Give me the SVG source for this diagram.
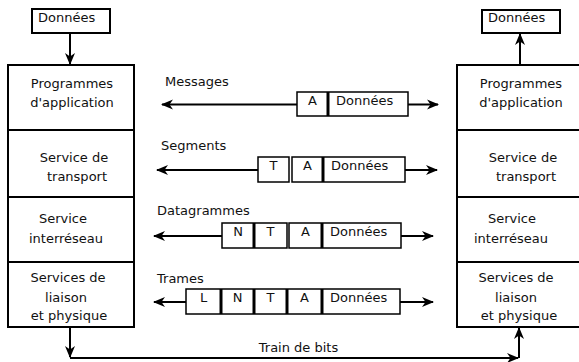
<svg xmlns="http://www.w3.org/2000/svg" width="579" height="362" viewBox="0 0 579 362">
<defs>
<marker id="ah" markerUnits="userSpaceOnUse" markerWidth="12" markerHeight="12" viewBox="0 0 12 12" refX="11" refY="6" orient="auto">
<path d="M0,1 L12,6 L0,11 L3.5,6 z" fill="#000"/>
</marker>
<style>
text{font-family:"DejaVu Sans",sans-serif;font-size:13px;fill:#111}
.box{fill:#fff;stroke:#000;stroke-width:2}
.cell{fill:#fff;stroke:#000;stroke-width:1.5}
.sep{stroke:#000;stroke-width:3}
.ln{fill:none;stroke:#000;stroke-width:2}
.m{text-anchor:middle}
</style>
</defs>
<g id="connectors">
<line class="ln" x1="70" y1="33" x2="70" y2="64" marker-end="url(#ah)"/>
<line class="ln" x1="520" y1="65" x2="520" y2="34" marker-end="url(#ah)"/>
<line class="ln" x1="70" y1="327" x2="70" y2="357" marker-end="url(#ah)"/>
<line class="ln" x1="70" y1="358" x2="518" y2="358" marker-end="url(#ah)"/>
<line class="ln" x1="519" y1="358" x2="519" y2="328" marker-end="url(#ah)"/>
<line class="ln" x1="297" y1="104.5" x2="162" y2="104.5" marker-end="url(#ah)"/>
<line class="ln" x1="408" y1="104.5" x2="438" y2="104.5" marker-end="url(#ah)"/>
<line class="ln" x1="258" y1="170" x2="157" y2="170" marker-end="url(#ah)"/>
<line class="ln" x1="405" y1="170" x2="437" y2="170" marker-end="url(#ah)"/>
<line class="ln" x1="222" y1="236" x2="154" y2="236" marker-end="url(#ah)"/>
<line class="ln" x1="401" y1="236" x2="433" y2="236" marker-end="url(#ah)"/>
<line class="ln" x1="186" y1="302" x2="154" y2="302" marker-end="url(#ah)"/>
<line class="ln" x1="400" y1="302" x2="433" y2="302" marker-end="url(#ah)"/>
</g>
<g id="data-left">
<rect class="box" x="32" y="9" width="78" height="24"/>
<text x="38" y="22">Données</text>
</g>
<g id="data-right">
<rect class="box" x="482" y="10" width="78" height="23"/>
<text x="488" y="22">Données</text>
</g>
<g id="left-app">
<rect class="box" x="8" y="65" width="126" height="65"/>
<text class="m" x="72" y="88">Programmes</text>
<text class="m" x="72" y="107">d'application</text>
</g>
<g id="left-transport">
<rect class="box" x="8" y="130" width="126" height="67"/>
<text class="m" x="74" y="162">Service de</text>
<text class="m" x="77" y="181">transport</text>
</g>
<g id="left-inter">
<rect class="box" x="8" y="197" width="126" height="65"/>
<text class="m" x="63" y="223">Service</text>
<text class="m" x="66" y="243">interréseau</text>
</g>
<g id="left-liaison">
<rect class="box" x="8" y="262" width="126" height="65"/>
<text class="m" x="68" y="282">Services de</text>
<text class="m" x="66" y="302">liaison</text>
<text class="m" x="69" y="320">et physique</text>
</g>
<g id="right-app">
<rect class="box" x="457" y="65" width="125" height="65"/>
<text class="m" x="521" y="88">Programmes</text>
<text class="m" x="521" y="107">d'application</text>
</g>
<g id="right-transport">
<rect class="box" x="457" y="130" width="125" height="67"/>
<text class="m" x="523" y="162">Service de</text>
<text class="m" x="526" y="181">transport</text>
</g>
<g id="right-inter">
<rect class="box" x="457" y="197" width="125" height="65"/>
<text class="m" x="512" y="223">Service</text>
<text class="m" x="511" y="243">interréseau</text>
</g>
<g id="right-liaison">
<rect class="box" x="457" y="262" width="125" height="65"/>
<text class="m" x="516" y="282">Services de</text>
<text class="m" x="516" y="302">liaison</text>
<text class="m" x="519" y="320">et physique</text>
</g>
<g id="messages">
<text x="165" y="86">Messages</text>
<rect class="cell" x="297" y="92" width="111" height="24"/>
<line class="sep" x1="328" y1="92" x2="328" y2="116"/>
<text class="m" x="312.5" y="105">A</text>
<text x="336" y="105">Données</text>
</g>
<g id="segments">
<text x="161" y="150">Segments</text>
<rect class="cell" x="258" y="157" width="31" height="25"/>
<rect class="cell" x="292" y="157" width="113" height="25"/>
<line class="sep" x1="323" y1="157" x2="323" y2="182"/>
<text class="m" x="273.5" y="170">T</text>
<text class="m" x="307.5" y="170">A</text>
<text x="331" y="170">Données</text>
</g>
<g id="datagrammes">
<text x="157" y="215">Datagrammes</text>
<rect class="cell" x="222" y="223" width="65" height="25"/>
<line class="sep" x1="254" y1="223" x2="254" y2="248"/>
<rect class="cell" x="289" y="223" width="112" height="25"/>
<line class="sep" x1="322" y1="223" x2="322" y2="248"/>
<text class="m" x="238" y="236">N</text>
<text class="m" x="270.5" y="236">T</text>
<text class="m" x="305.5" y="236">A</text>
<text x="330" y="236">Données</text>
</g>
<g id="trames">
<text x="157" y="283">Trames</text>
<rect class="cell" x="186" y="289" width="214" height="25"/>
<line class="sep" x1="221" y1="289" x2="221" y2="314"/>
<line class="sep" x1="254" y1="289" x2="254" y2="314"/>
<line class="sep" x1="287" y1="289" x2="287" y2="314"/>
<line class="sep" x1="322" y1="289" x2="322" y2="314"/>
<text class="m" x="203.5" y="302">L</text>
<text class="m" x="237.5" y="302">N</text>
<text class="m" x="270.5" y="302">T</text>
<text class="m" x="304.5" y="302">A</text>
<text x="330" y="302">Données</text>
</g>
<g id="train">
<text class="m" x="298.5" y="352">Train de bits</text>
</g>
</svg>
